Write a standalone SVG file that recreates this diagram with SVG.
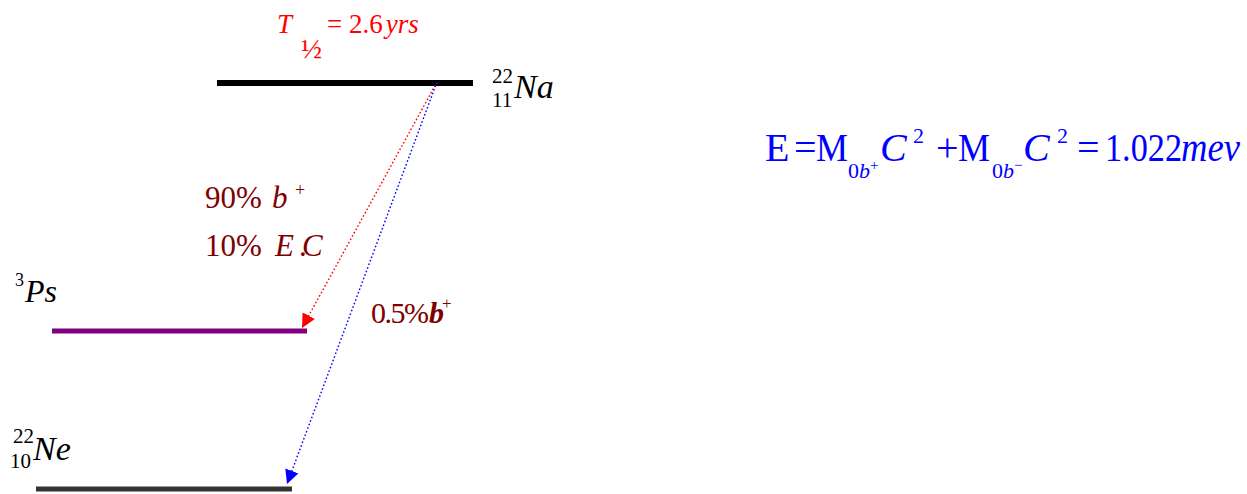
<svg xmlns="http://www.w3.org/2000/svg" width="1247" height="494" viewBox="0 0 1247 494" font-family="'Liberation Serif','Times New Roman',serif">
<style>
text{font-family:"Liberation Serif","Times New Roman",serif}
.it{font-style:italic}
.red{fill:#ff0000}
.blk{fill:#000}
.dr{fill:#800000}
.bl{fill:#0000ff}
.conn{fill:none;stroke-width:1.4;stroke-dasharray:1.6 2.2}
</style>
<defs>
<marker id="ahR" markerUnits="userSpaceOnUse" markerWidth="16" markerHeight="14" refX="14" refY="7" orient="auto"><path d="M0,0 L14,7 L0,14 Z" fill="#ff0000"/></marker>
<marker id="ahB" markerUnits="userSpaceOnUse" markerWidth="16" markerHeight="14" refX="14" refY="7" orient="auto"><path d="M0,0 L14,7 L0,14 Z" fill="#0000ff"/></marker>
</defs>
<g id="halflife">
<text class="red it" x="277" y="33" font-size="27">T</text>
<text class="red" x="301" y="58" font-size="28">½</text>
<text class="red" x="327" y="33" font-size="27">= 2.6<tspan class="it" dx="3">yrs</tspan></text>
</g>
<g id="na22">
<line x1="217" y1="83" x2="473" y2="83" stroke="#000" stroke-width="6"/>
<text class="blk" x="492" y="83" font-size="21">22</text>
<text class="blk" x="492" y="107" font-size="21">11</text>
<text class="blk it" x="514" y="98" font-size="34">Na</text>
</g>
<g id="ps3">
<line x1="52" y1="331" x2="307" y2="331" stroke="#800080" stroke-width="5"/>
<text class="blk" x="15" y="286" font-size="18">3</text>
<text class="blk it" x="25" y="302" font-size="32">Ps</text>
</g>
<g id="ne22">
<line x1="36" y1="489" x2="292" y2="489" stroke="#333333" stroke-width="5"/>
<text class="blk" x="13" y="443" font-size="21">22</text>
<text class="blk" x="10" y="468" font-size="21">10</text>
<text class="blk it" x="33" y="460" font-size="34">Ne</text>
</g>
<g id="labels">
<text class="dr" x="205" y="208" font-size="31">90%<tspan class="it" x="272">b</tspan></text>
<text class="dr" x="295" y="196" font-size="18">+</text>
<text class="dr" x="205" y="256" font-size="31">10%<tspan class="it" x="275">E</tspan><tspan x="299">.</tspan><tspan class="it" x="302">C</tspan></text>
<text class="dr" x="371" y="323" font-size="30" letter-spacing="-1.5">0.5%<tspan class="it" font-weight="bold" x="429">b</tspan></text>
<text class="dr" x="442" y="309" font-size="17">+</text>
</g>
<g id="equation">
<text class="bl" x="765" y="161" font-size="40">E</text>
<text class="bl" x="794" y="161" font-size="40">=</text>
<text class="bl" x="816" y="161" font-size="40" textLength="32" lengthAdjust="spacingAndGlyphs">M</text>
<text class="bl" x="848" y="178" font-size="22">0<tspan class="it">b</tspan></text>
<text class="bl" x="870" y="170" font-size="15">+</text>
<text class="bl it" x="880" y="161" font-size="40">C</text>
<text class="bl" x="913" y="143" font-size="22">2</text>
<text class="bl" x="936" y="161" font-size="40">+</text>
<text class="bl" x="958" y="161" font-size="40" textLength="32" lengthAdjust="spacingAndGlyphs">M</text>
<text class="bl" x="992" y="178" font-size="22">0<tspan class="it">b</tspan></text>
<text class="bl" x="1014" y="170" font-size="15">−</text>
<text class="bl it" x="1023" y="161" font-size="40">C</text>
<text class="bl" x="1057" y="143" font-size="22">2</text>
<text class="bl" x="1077" y="161" font-size="40">=</text>
<text class="bl" x="1105" y="161" font-size="40" textLength="77" lengthAdjust="spacingAndGlyphs">1.022</text>
<text class="bl it" x="1181" y="161" font-size="40" textLength="59" lengthAdjust="spacingAndGlyphs">mev</text>
</g>
<g id="connectors">
<line class="conn" x1="437" y1="82" x2="302" y2="328" stroke="#ff0000" marker-end="url(#ahR)"/>
<line class="conn" x1="437" y1="82" x2="287" y2="484" stroke="#0000ff" marker-end="url(#ahB)"/>
</g>
</svg>
